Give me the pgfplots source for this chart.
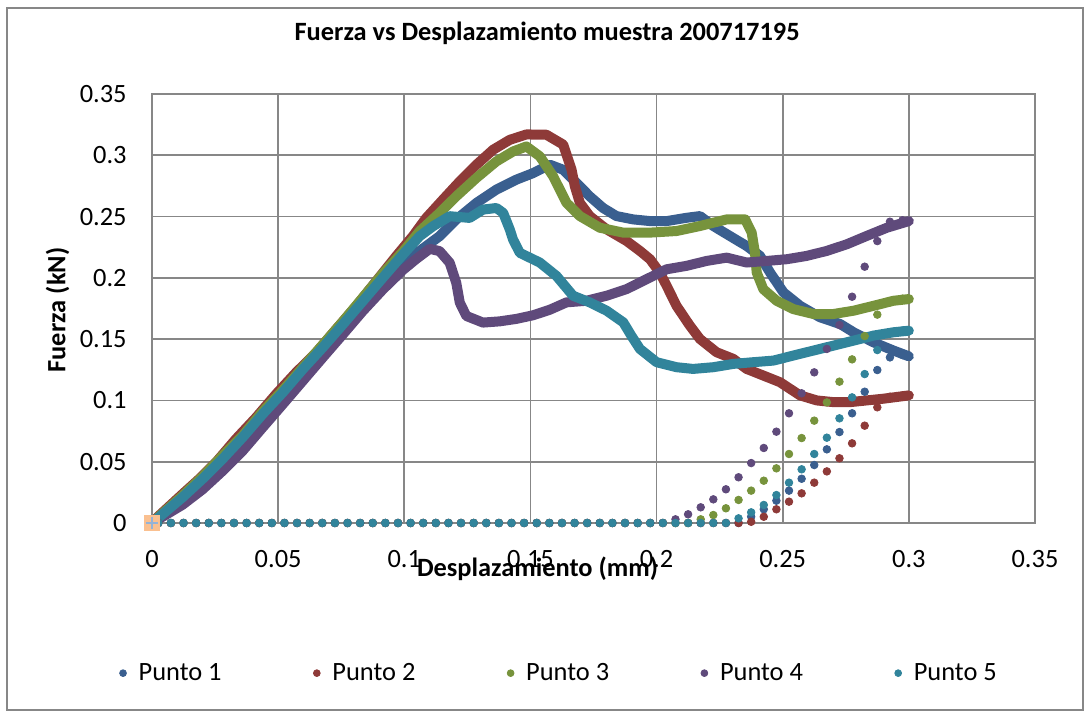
\documentclass[border=0pt]{standalone}
\usepackage{fontspec}
\setmainfont{Carlito}
\usepackage{pgfplots}
\usepackage{pgfplotstable}
\pgfplotsset{compat=1.18}

\definecolor{cuno}{HTML}{3A5F8F}
\definecolor{cdos}{HTML}{8E3A38}
\definecolor{ctres}{HTML}{77933C}
\definecolor{ccuatro}{HTML}{5F4A7B}
\definecolor{ccinco}{HTML}{31849B}
\definecolor{gridc}{HTML}{878787}
\definecolor{peach}{HTML}{FAC090}
\definecolor{ltblue}{HTML}{95B3D7}

% sparse points: zeros shared, rising tails per series
\pgfplotstableread{
x y
0.0025 0
0.0075 0
0.0125 0
0.0175 0
0.0225 0
0.0275 0
0.0325 0
0.0375 0
0.0425 0
0.0475 0
0.0525 0
0.0575 0
0.0625 0
0.0675 0
0.0725 0
0.0775 0
0.0825 0
0.0875 0
0.0925 0
0.0975 0
0.1025 0
0.1075 0
0.1125 0
0.1175 0
0.1225 0
0.1275 0
0.1325 0
0.1375 0
0.1425 0
0.1475 0
0.1525 0
0.1575 0
0.1625 0
0.1675 0
0.1725 0
0.1775 0
0.1825 0
0.1875 0
0.1925 0
0.1975 0
0.2025 0
0.2075 0
0.2125 0
0.2175 0
0.2225 0
0.2275 0
0.2325 0
}\ceros

\pgfplotstableread{
x y
0.2375 0.0051
0.2425 0.0112
0.2475 0.0182
0.2525 0.0264
0.2575 0.0361
0.2625 0.0473
0.2675 0.0601
0.2725 0.0742
0.2775 0.0895
0.2825 0.1071
0.2875 0.1248
0.2925 0.1351
0.2975 0.1370
}\colauno

\pgfplotstableread{
x y
0.2375 0.0010
0.2425 0.0051
0.2475 0.0112
0.2525 0.0174
0.2575 0.0242
0.2625 0.0329
0.2675 0.0421
0.2725 0.0528
0.2775 0.0650
0.2825 0.0794
0.2875 0.0944
0.2925 0.1030
0.2975 0.1040
}\colados

\pgfplotstableread{
x y
0.2175 0.0030
0.2225 0.0065
0.2275 0.0120
0.2325 0.0188
0.2375 0.0264
0.2425 0.0345
0.2475 0.0446
0.2525 0.0563
0.2575 0.0693
0.2625 0.0835
0.2675 0.0984
0.2725 0.1153
0.2775 0.1335
0.2825 0.1525
0.2875 0.1700
0.2925 0.1800
0.2975 0.1830
}\colatres

\pgfplotstableread{
x y
0.2075 0.0030
0.2125 0.0071
0.2175 0.0128
0.2225 0.0193
0.2275 0.0275
0.2325 0.0373
0.2375 0.0489
0.2425 0.0612
0.2475 0.0745
0.2525 0.0895
0.2575 0.1058
0.2625 0.1229
0.2675 0.1420
0.2725 0.1615
0.2775 0.1846
0.2825 0.2091
0.2875 0.2300
0.2925 0.2458
0.2975 0.2470
}\colacuatro

\pgfplotstableread{
x y
0.2325 0.0038
0.2375 0.0087
0.2425 0.0147
0.2475 0.0228
0.2525 0.0329
0.2575 0.0438
0.2625 0.0563
0.2675 0.0696
0.2725 0.0854
0.2775 0.1025
0.2825 0.1215
0.2875 0.1411
0.2925 0.1550
0.2975 0.1570
}\colacinco

\begin{document}
\begin{tikzpicture}[font=\fontsize{13.2}{15.8}\selectfont]
\path[use as bounding box] (-76pt,-94pt) rectangle (468pt,261.5pt);
\draw[gridc, line width=0.75pt] (-72.5pt,-93.5pt) rectangle (465.5pt,257.5pt);
\begin{axis}[
    at={(0pt,0pt)}, anchor=south west,
    scale only axis, width=441.5pt, height=214.5pt,
    xmin=0, xmax=0.35, ymin=0, ymax=0.35,
    xtick={0,0.05,0.1,0.15,0.2,0.25,0.3,0.35},
    ytick={0,0.05,0.1,0.15,0.2,0.25,0.3,0.35},
    scaled ticks=false,
    grid=major,
    major grid style={draw=gridc, line width=0.8pt},
    axis line style={draw=gridc, line width=0.8pt},
    major tick length=0pt,
    clip=false,
    tick label style={/pgf/number format/assume math mode=true,
        /pgf/number format/fixed, /pgf/number format/precision=2,
        font=\fontsize{13.2}{15.8}\selectfont, inner sep=0pt},
    yticklabel style={anchor=east, xshift=-12.5pt},
    xticklabel style={anchor=north, yshift=-13.5pt},
    title={Fuerza vs Desplazamiento muestra 200717195},
    title style={at={(axis description cs:0.4475,1.114)}, anchor=center,
        font=\fontsize{13.2}{15.8}\selectfont\bfseries},
    xlabel={Desplazamiento (mm)},
    xlabel style={at={(axis description cs:0.4366,-0.107)}, anchor=center,
        font=\fontsize{13.2}{15.8}\selectfont\bfseries},
    ylabel={Fuerza (kN)},
    ylabel style={at={(axis description cs:-0.107,0.4965)}, anchor=center,
        rotate=0, font=\fontsize{13.2}{15.8}\selectfont\bfseries},
    legend style={at={(axis description cs:-0.0439,-0.35)}, anchor=west,
        draw=none, fill=none, font=\fontsize{13.2}{15.8}\selectfont,
        nodes={inner sep=0pt},
        /tikz/every odd column/.append style={column sep=6.1pt},
        /tikz/every even column/.append style={column sep=45.9pt}},
    legend columns=5,
    legend image code/.code={\draw[mark size=1.7pt] plot coordinates {(0pt,0pt)};},
    dense/.style={line width=5pt, line join=round, line cap=round, forget plot},
    dots/.style={only marks, mark=*, mark size=1.9pt},
]

% Punto 1
\addplot[cuno, dense] coordinates {
(0,0) (0.0029,0.0040) (0.0122,0.0180) (0.0201,0.0320) (0.0280,0.0470)
(0.0360,0.0640) (0.0439,0.0830) (0.0519,0.1010) (0.0598,0.1200) (0.0677,0.1385)
(0.0757,0.1570) (0.0836,0.1760) (0.0915,0.1950) (0.0995,0.2125) (0.1061,0.2220)
(0.1140,0.2340) (0.1206,0.2476) (0.1286,0.2611) (0.1365,0.2720) (0.1444,0.2801)
(0.1511,0.2855) (0.1577,0.2923) (0.1630,0.2882) (0.1683,0.2774) (0.1735,0.2665)
(0.1788,0.2570) (0.1841,0.2504) (0.1907,0.2477) (0.1974,0.2463) (0.2040,0.2463)
(0.2119,0.2490) (0.2172,0.2504) (0.2225,0.2423) (0.2291,0.2341) (0.2357,0.2260)
(0.2410,0.2179) (0.2450,0.2043) (0.2503,0.1881) (0.2569,0.1772) (0.2648,0.1678)
(0.2728,0.1623) (0.2781,0.1556) (0.2860,0.1474) (0.2939,0.1407) (0.3000,0.1360)
};
\addplot[cuno, dots, restrict x to domain=0:0.233] table {\ceros};
\addlegendentry{Punto 1}
\addplot[cuno, dots, forget plot] table {\colauno};

% Punto 2
\addplot[cdos, dense] coordinates {
(0,0) (0.0029,0.0062) (0.0122,0.0238) (0.0188,0.0361) (0.0254,0.0496)
(0.0333,0.0686) (0.0413,0.0862) (0.0492,0.1052) (0.0571,0.1228) (0.0651,0.1391)
(0.0730,0.1581) (0.0810,0.1771) (0.0889,0.1974) (0.0968,0.2177) (0.1034,0.2340)
(0.1087,0.2489) (0.1153,0.2638) (0.1220,0.2787) (0.1286,0.2923) (0.1352,0.3045)
(0.1418,0.3126) (0.1484,0.3170) (0.1563,0.3168) (0.1630,0.3087) (0.1663,0.2883)
(0.1676,0.2748) (0.1696,0.2612) (0.1735,0.2504) (0.1802,0.2396) (0.1881,0.2301)
(0.1934,0.2220) (0.1974,0.2152) (0.2013,0.2043) (0.2040,0.1935) (0.2079,0.1772)
(0.2132,0.1610) (0.2172,0.1501) (0.2238,0.1393) (0.2304,0.1339) (0.2357,0.1257)
(0.2423,0.1203) (0.2489,0.1149) (0.2529,0.1095) (0.2569,0.1041) (0.2635,0.1000)
(0.2701,0.0986) (0.2767,0.0986) (0.2833,0.1000) (0.2899,0.1014) (0.3000,0.1041)
};
\addplot[cdos, dots, restrict x to domain=0:0.233] table {\ceros};
\addlegendentry{Punto 2}
\addplot[cdos, dots, forget plot] table {\colados};

% Punto 3
\addplot[ctres, dense] coordinates {
(0,0) (0.0029,0.0055) (0.0122,0.0225) (0.0201,0.0380) (0.0280,0.0550)
(0.0360,0.0715) (0.0439,0.0910) (0.0519,0.1085) (0.0598,0.1270) (0.0677,0.1455)
(0.0757,0.1645) (0.0836,0.1840) (0.0915,0.2035) (0.0995,0.2215) (0.1061,0.2380)
(0.1140,0.2530) (0.1206,0.2665) (0.1286,0.2815) (0.1365,0.2950) (0.1431,0.3031)
(0.1484,0.3072) (0.1537,0.2992) (0.1590,0.2829) (0.1643,0.2612) (0.1696,0.2504)
(0.1775,0.2409) (0.1868,0.2369) (0.1974,0.2369) (0.2079,0.2382) (0.2172,0.2423)
(0.2278,0.2477) (0.2351,0.2477) (0.2377,0.2369) (0.2390,0.2206) (0.2397,0.2043)
(0.2423,0.1908) (0.2476,0.1813) (0.2542,0.1745) (0.2622,0.1705) (0.2701,0.1705)
(0.2781,0.1732) (0.2860,0.1772) (0.2939,0.1813) (0.3000,0.1827)
};
\addplot[ctres, dots, restrict x to domain=0:0.213] table {\ceros};
\addlegendentry{Punto 3}
\addplot[ctres, dots, forget plot] table {\colatres};

% Punto 4
\addplot[ccuatro, dense] coordinates {
(0,0) (0.0029,0.0035) (0.0122,0.0150) (0.0201,0.0275) (0.0280,0.0425)
(0.0360,0.0590) (0.0439,0.0780) (0.0519,0.0970) (0.0598,0.1160) (0.0677,0.1350)
(0.0757,0.1540) (0.0836,0.1730) (0.0915,0.1905) (0.0995,0.2065) (0.1048,0.2155)
(0.1101,0.2237) (0.1140,0.2218) (0.1180,0.2123) (0.1206,0.1960) (0.1220,0.1798)
(0.1246,0.1689) (0.1312,0.1635) (0.1378,0.1645) (0.1444,0.1665) (0.1511,0.1695)
(0.1577,0.1740) (0.1643,0.1800) (0.1722,0.1813) (0.1802,0.1854) (0.1881,0.1908)
(0.1960,0.1989) (0.2040,0.2070) (0.2119,0.2098) (0.2198,0.2138) (0.2278,0.2165)
(0.2357,0.2125) (0.2437,0.2138) (0.2516,0.2152) (0.2595,0.2179) (0.2675,0.2220)
(0.2754,0.2274) (0.2833,0.2342) (0.2913,0.2409) (0.3000,0.2463)
};
\addplot[ccuatro, dots, restrict x to domain=0:0.203] table {\ceros};
\addlegendentry{Punto 4}
\addplot[ccuatro, dots, forget plot] table {\colacuatro};

% Punto 5
\addplot[ccinco, dense] coordinates {
(0,0) (0.0029,0.0049) (0.0122,0.0211) (0.0201,0.0361) (0.0280,0.0523)
(0.0360,0.0700) (0.0439,0.0889) (0.0519,0.1066) (0.0598,0.1255) (0.0677,0.1432)
(0.0757,0.1621) (0.0836,0.1811) (0.0915,0.2001) (0.0995,0.2191) (0.1061,0.2340)
(0.1114,0.2421) (0.1180,0.2503) (0.1259,0.2489) (0.1312,0.2557) (0.1365,0.2570)
(0.1392,0.2530) (0.1418,0.2396) (0.1431,0.2313) (0.1458,0.2204) (0.1537,0.2125)
(0.1603,0.2016) (0.1669,0.1854) (0.1735,0.1800) (0.1802,0.1732) (0.1868,0.1637)
(0.1900,0.1528) (0.1934,0.1420) (0.2000,0.1312) (0.2079,0.1271) (0.2145,0.1257)
(0.2225,0.1271) (0.2304,0.1298) (0.2384,0.1312) (0.2463,0.1325) (0.2542,0.1366)
(0.2622,0.1407) (0.2701,0.1447) (0.2781,0.1488) (0.2860,0.1529) (0.2939,0.1556)
(0.3000,0.1569)
};
\addplot[ccinco, dots, restrict x to domain=0:0.228] table {\ceros};
\addlegendentry{Punto 5}
\addplot[ccinco, dots, forget plot] table {\colacinco};

% marker at the origin
\addplot[only marks, mark=square*, mark size=3.6pt, draw=peach, fill=peach, forget plot]
    coordinates {(0,0)};
\addplot[only marks, mark=+, mark size=3.2pt, ltblue, line width=0.6pt, forget plot]
    coordinates {(0,0)};
\end{axis}
\end{tikzpicture}
\end{document}
